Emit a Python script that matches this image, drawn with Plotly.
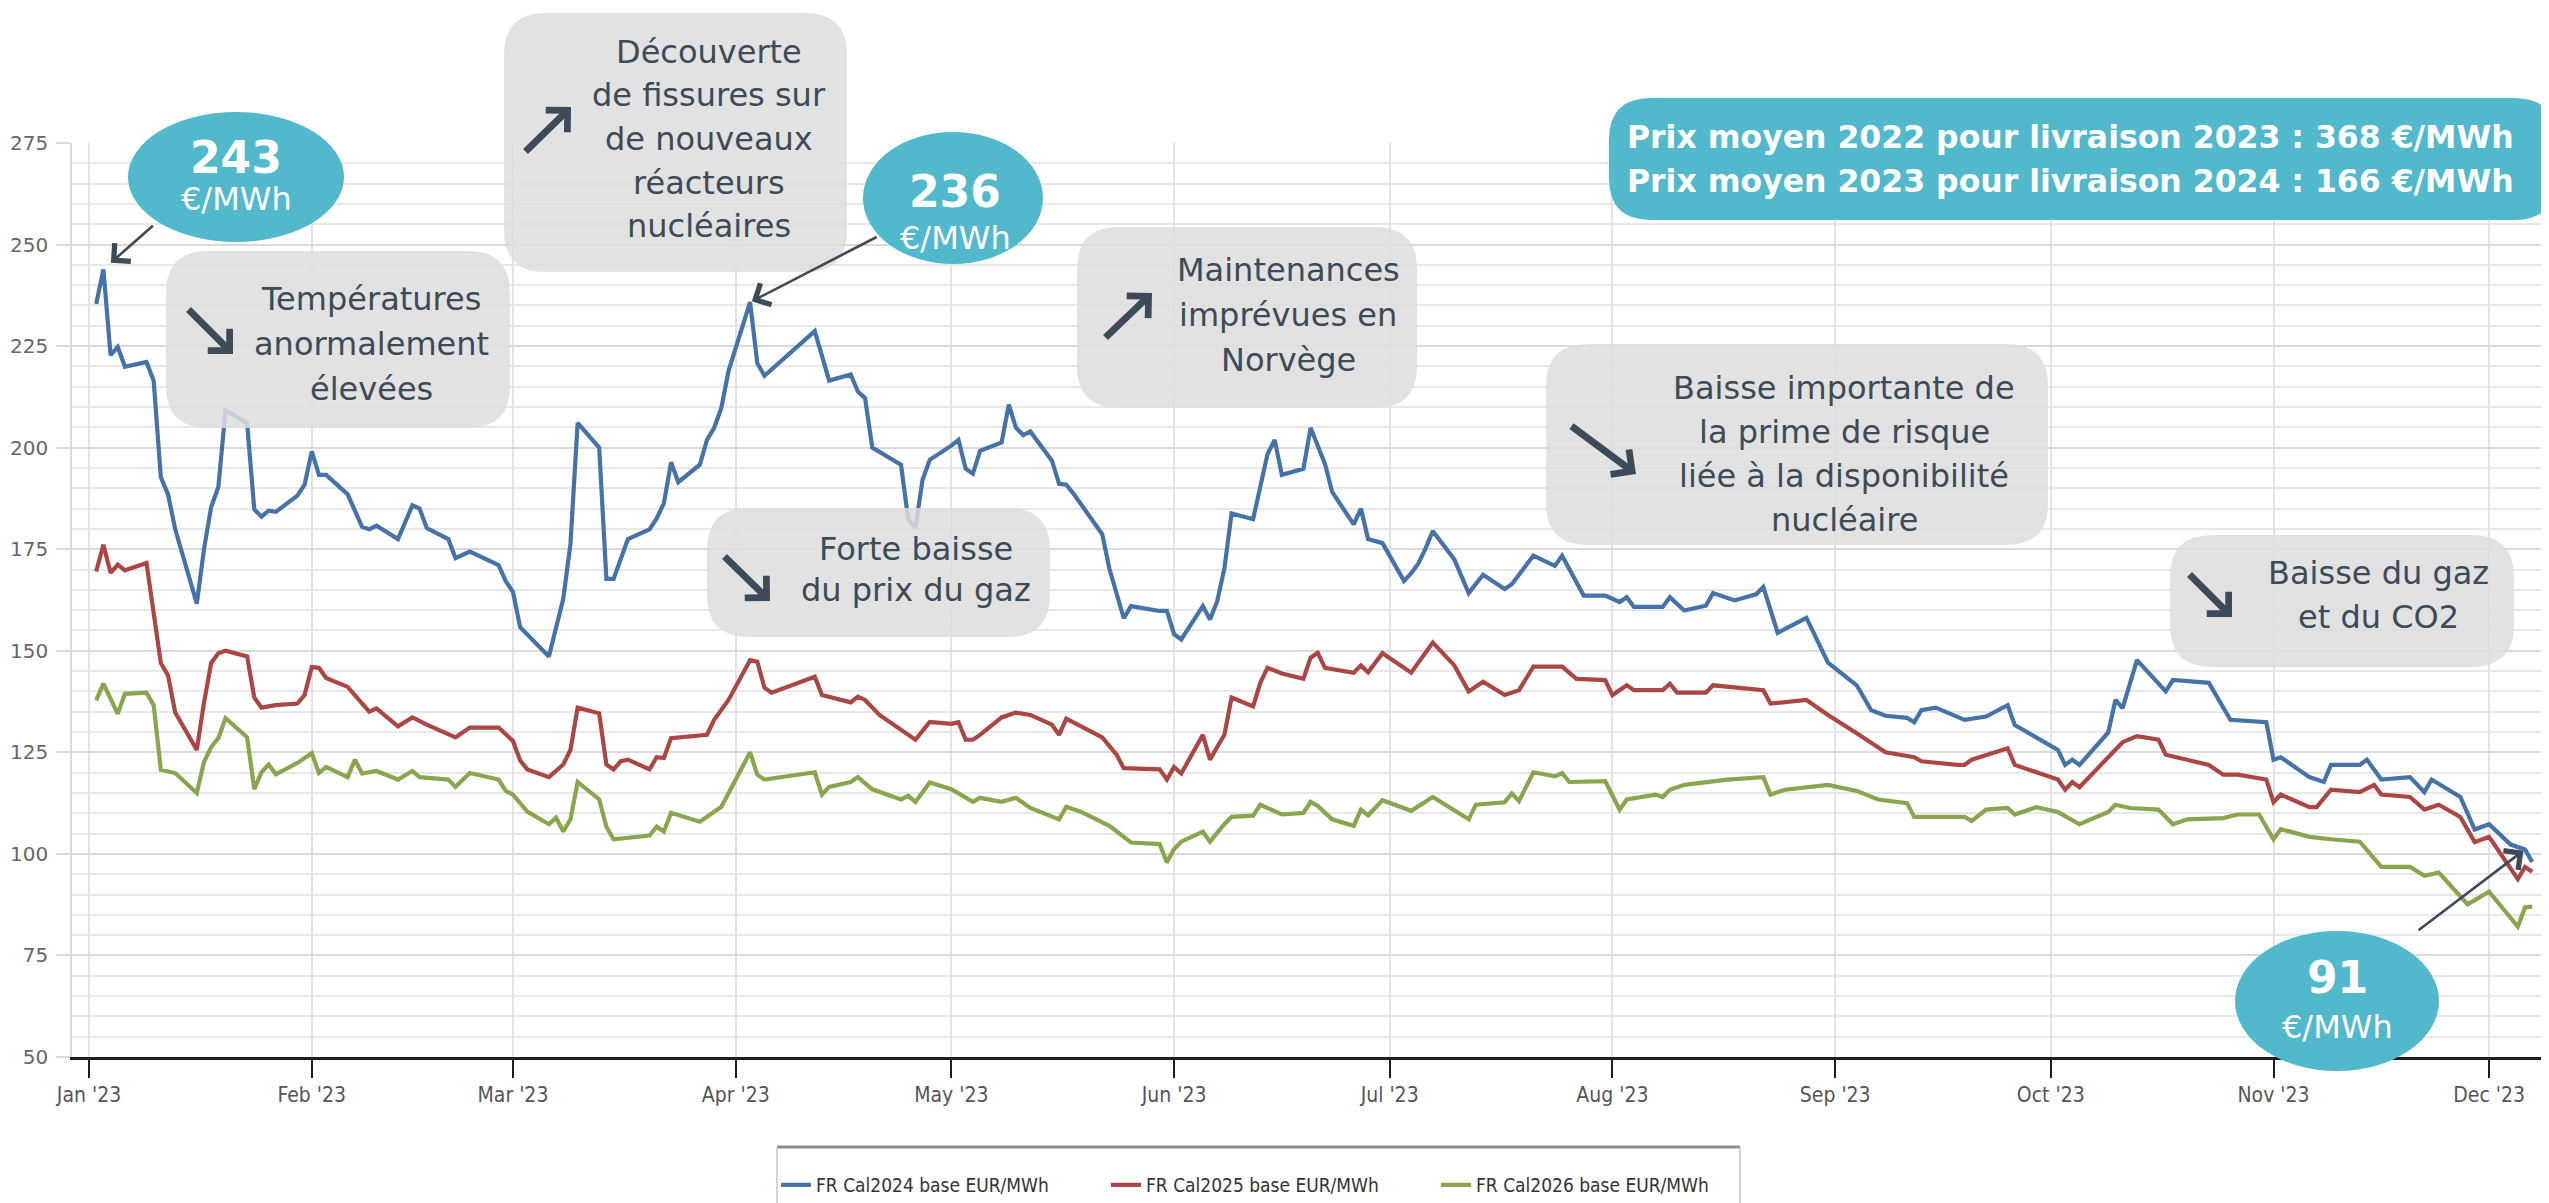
import plotly.graph_objects as go

# ---------------- data ----------------
dates_cal2024 = [
    "2023-01-02", "2023-01-03", "2023-01-04", "2023-01-05", "2023-01-06", "2023-01-09", "2023-01-10",
    "2023-01-11", "2023-01-12", "2023-01-13", "2023-01-16", "2023-01-17", "2023-01-18", "2023-01-19",
    "2023-01-20", "2023-01-23", "2023-01-24", "2023-01-25", "2023-01-26", "2023-01-27", "2023-01-30",
    "2023-01-31", "2023-02-01", "2023-02-02", "2023-02-03", "2023-02-06", "2023-02-08", "2023-02-09",
    "2023-02-10", "2023-02-13", "2023-02-15", "2023-02-16", "2023-02-17", "2023-02-20", "2023-02-21",
    "2023-02-22", "2023-02-23", "2023-02-27", "2023-02-28", "2023-03-01", "2023-03-02", "2023-03-06",
    "2023-03-08", "2023-03-09", "2023-03-10", "2023-03-13", "2023-03-14", "2023-03-15", "2023-03-17",
    "2023-03-20", "2023-03-21", "2023-03-22", "2023-03-23", "2023-03-24", "2023-03-27", "2023-03-28",
    "2023-03-29", "2023-03-30", "2023-03-31", "2023-04-03", "2023-04-04", "2023-04-05", "2023-04-12",
    "2023-04-14", "2023-04-17", "2023-04-18", "2023-04-19", "2023-04-20", "2023-04-24", "2023-04-25",
    "2023-04-26", "2023-04-27", "2023-04-28", "2023-05-01", "2023-05-02", "2023-05-03", "2023-05-04",
    "2023-05-05", "2023-05-08", "2023-05-09", "2023-05-10", "2023-05-11", "2023-05-12", "2023-05-15",
    "2023-05-16", "2023-05-17", "2023-05-18", "2023-05-22", "2023-05-23", "2023-05-25", "2023-05-26",
    "2023-05-30", "2023-05-31", "2023-06-01", "2023-06-02", "2023-06-05", "2023-06-06", "2023-06-07",
    "2023-06-08", "2023-06-09", "2023-06-12", "2023-06-14", "2023-06-15", "2023-06-16", "2023-06-19",
    "2023-06-20", "2023-06-21", "2023-06-22", "2023-06-23", "2023-06-26", "2023-06-27", "2023-06-28",
    "2023-06-30", "2023-07-03", "2023-07-04", "2023-07-05", "2023-07-06", "2023-07-07", "2023-07-10",
    "2023-07-12", "2023-07-14", "2023-07-17", "2023-07-18", "2023-07-21", "2023-07-24", "2023-07-25",
    "2023-07-28", "2023-07-31", "2023-08-02", "2023-08-03", "2023-08-04", "2023-08-08", "2023-08-09",
    "2023-08-11", "2023-08-14", "2023-08-15", "2023-08-18", "2023-08-21", "2023-08-22", "2023-08-24",
    "2023-08-28", "2023-08-31", "2023-09-04", "2023-09-06", "2023-09-08", "2023-09-11", "2023-09-12",
    "2023-09-13", "2023-09-15", "2023-09-19", "2023-09-22", "2023-09-25", "2023-09-26", "2023-09-29",
    "2023-10-02", "2023-10-03", "2023-10-04", "2023-10-05", "2023-10-09", "2023-10-10", "2023-10-11",
    "2023-10-13", "2023-10-17", "2023-10-18", "2023-10-23", "2023-10-26", "2023-10-31", "2023-11-01",
    "2023-11-02", "2023-11-06", "2023-11-08", "2023-11-09", "2023-11-13", "2023-11-14", "2023-11-16",
    "2023-11-20", "2023-11-22", "2023-11-23", "2023-11-27", "2023-11-29", "2023-12-01", "2023-12-04",
    "2023-12-06", "2023-12-07",
]
cal2024 = [
    235.4, 243.9, 222.8, 224.8, 219.9, 221.1, 216.5,
    192.7, 188.5, 179.9, 161.6, 175.0, 185.4, 190.3,
    209.2, 206.1, 184.8, 183.0, 184.5, 184.2, 188.2,
    190.9, 199.1, 193.3, 193.3, 188.5, 180.5, 179.9,
    180.8, 177.5, 185.8, 185.0, 180.2, 177.5, 172.8,
    173.6, 174.4, 171.1, 167.1, 164.5, 155.8, 148.6,
    162.8, 176.3, 206.1, 200.0, 167.7, 167.7, 177.5,
    179.9, 182.6, 186.3, 196.4, 191.5, 195.8, 201.9,
    204.9, 209.8, 218.9, 235.8, 220.8, 217.7, 228.7,
    216.5, 218.0, 213.8, 212.2, 200.0, 195.8, 182.4,
    180.2, 192.1, 197.0, 200.5, 201.9, 194.8, 193.6,
    199.2, 201.3, 210.6, 204.9, 203.1, 204.0, 196.8,
    191.1, 190.9, 188.7, 178.7, 170.2, 158.0, 161.0,
    159.8, 159.8, 154.1, 152.8, 161.0, 157.7, 162.2,
    170.2, 183.8, 182.4, 198.4, 201.9, 193.3, 194.8,
    204.9, 200.6, 196.0, 189.1, 181.1, 185.0, 177.5,
    176.5, 167.2, 169.1, 171.5, 175.2, 179.5, 172.5,
    164.2, 168.7, 165.2, 166.4, 173.4, 170.9, 173.4,
    163.6, 163.6, 162.0, 163.2, 160.8, 160.8, 163.2,
    159.9, 161.1, 164.2, 162.4, 163.9, 165.7, 154.4,
    158.1, 147.1, 141.5, 135.4, 134.0, 133.5, 132.4,
    135.4, 136.0, 133.0, 133.8, 136.6, 131.7, 128.7,
    125.6, 121.9, 123.2, 121.9, 129.9, 137.9, 135.9,
    147.7, 140.0, 142.8, 142.1, 133.0, 132.4, 123.2,
    123.8, 118.9, 117.7, 121.9, 121.9, 123.2, 118.3,
    118.9, 115.2, 118.3, 114.0, 106.0, 107.3, 102.3,
    101.1, 98.0,
]

dates_cal2025 = [
    "2023-01-02", "2023-01-03", "2023-01-04", "2023-01-05", "2023-01-06", "2023-01-09", "2023-01-11",
    "2023-01-12", "2023-01-13", "2023-01-16", "2023-01-17", "2023-01-18", "2023-01-19", "2023-01-20",
    "2023-01-23", "2023-01-24", "2023-01-25", "2023-01-27", "2023-01-30", "2023-01-31", "2023-02-01",
    "2023-02-02", "2023-02-03", "2023-02-06", "2023-02-09", "2023-02-10", "2023-02-13", "2023-02-15",
    "2023-02-17", "2023-02-21", "2023-02-23", "2023-02-27", "2023-03-01", "2023-03-02", "2023-03-03",
    "2023-03-06", "2023-03-08", "2023-03-09", "2023-03-10", "2023-03-13", "2023-03-14", "2023-03-15",
    "2023-03-16", "2023-03-17", "2023-03-20", "2023-03-21", "2023-03-22", "2023-03-23", "2023-03-28",
    "2023-03-29", "2023-03-31", "2023-04-03", "2023-04-04", "2023-04-05", "2023-04-06", "2023-04-12",
    "2023-04-13", "2023-04-17", "2023-04-18", "2023-04-19", "2023-04-21", "2023-04-26", "2023-04-28",
    "2023-05-01", "2023-05-02", "2023-05-03", "2023-05-04", "2023-05-05", "2023-05-08", "2023-05-10",
    "2023-05-12", "2023-05-15", "2023-05-16", "2023-05-17", "2023-05-18", "2023-05-22", "2023-05-24",
    "2023-05-25", "2023-05-30", "2023-05-31", "2023-06-01", "2023-06-02", "2023-06-05", "2023-06-06",
    "2023-06-07", "2023-06-08", "2023-06-09", "2023-06-12", "2023-06-13", "2023-06-14", "2023-06-16",
    "2023-06-19", "2023-06-20", "2023-06-21", "2023-06-22", "2023-06-26", "2023-06-27", "2023-06-28",
    "2023-06-30", "2023-07-04", "2023-07-07", "2023-07-10", "2023-07-12", "2023-07-14", "2023-07-17",
    "2023-07-19", "2023-07-21", "2023-07-25", "2023-07-27", "2023-07-31", "2023-08-01", "2023-08-03",
    "2023-08-04", "2023-08-08", "2023-08-09", "2023-08-10", "2023-08-14", "2023-08-15", "2023-08-22",
    "2023-08-23", "2023-08-28", "2023-08-31", "2023-09-04", "2023-09-08", "2023-09-12", "2023-09-13",
    "2023-09-18", "2023-09-19", "2023-09-20", "2023-09-25", "2023-09-26", "2023-10-02", "2023-10-03",
    "2023-10-04", "2023-10-05", "2023-10-09", "2023-10-11", "2023-10-13", "2023-10-16", "2023-10-17",
    "2023-10-23", "2023-10-25", "2023-10-27", "2023-10-31", "2023-11-01", "2023-11-02", "2023-11-06",
    "2023-11-07", "2023-11-09", "2023-11-13", "2023-11-15", "2023-11-16", "2023-11-20", "2023-11-22",
    "2023-11-24", "2023-11-27", "2023-11-29", "2023-12-01", "2023-12-05", "2023-12-06", "2023-12-07",
]
cal2025 = [
    169.5, 176.1, 169.2, 171.2, 169.8, 171.6, 147.0,
    143.9, 134.8, 125.6, 137.2, 147.0, 149.4, 150.0,
    148.6, 138.5, 136.0, 136.6, 137.0, 139.1, 146.0,
    145.8, 143.3, 141.1, 135.0, 135.8, 131.4, 133.6,
    131.8, 128.7, 131.1, 131.1, 127.8, 123.0, 120.8,
    118.9, 122.0, 125.6, 136.0, 134.6, 122.0, 120.8,
    122.8, 123.2, 120.8, 123.8, 123.6, 128.5, 129.3,
    133.0, 137.9, 147.7, 147.3, 140.9, 139.7, 143.6,
    139.1, 137.3, 138.7, 137.9, 134.2, 128.1, 132.5,
    132.0, 132.4, 128.1, 128.1, 129.3, 133.6, 134.8,
    134.2, 131.8, 129.3, 133.3, 132.4, 128.7, 124.4,
    121.1, 120.8, 118.3, 121.4, 119.8, 129.3, 123.2,
    126.3, 129.3, 138.5, 136.3, 142.1, 145.8, 144.4,
    143.1, 148.3, 149.5, 145.8, 144.6, 146.4, 144.7,
    149.4, 144.6, 152.0, 146.4, 140.0, 142.4, 139.1,
    140.3, 146.1, 146.1, 143.1, 142.8, 139.1, 141.5,
    140.3, 140.3, 141.9, 139.7, 139.7, 141.5, 140.3,
    137.0, 137.9, 134.2, 129.7, 125.0, 123.8, 122.8,
    121.9, 121.9, 123.2, 126.0, 121.9, 118.3, 115.8,
    117.7, 116.4, 123.8, 127.5, 129.0, 128.1, 124.4,
    121.9, 119.5, 119.5, 118.3, 112.7, 114.6, 111.5,
    111.5, 115.8, 115.2, 117.0, 114.6, 114.0, 110.9,
    112.1, 109.1, 102.9, 104.2, 93.8, 96.8, 95.6,
]

dates_cal2026 = [
    "2023-01-02", "2023-01-03", "2023-01-05", "2023-01-06", "2023-01-09", "2023-01-10", "2023-01-11",
    "2023-01-13", "2023-01-16", "2023-01-17", "2023-01-18", "2023-01-19", "2023-01-20", "2023-01-23",
    "2023-01-24", "2023-01-25", "2023-01-26", "2023-01-27", "2023-01-30", "2023-02-01", "2023-02-02",
    "2023-02-03", "2023-02-06", "2023-02-07", "2023-02-08", "2023-02-10", "2023-02-13", "2023-02-15",
    "2023-02-16", "2023-02-20", "2023-02-21", "2023-02-23", "2023-02-27", "2023-02-28", "2023-03-01",
    "2023-03-03", "2023-03-06", "2023-03-07", "2023-03-08", "2023-03-09", "2023-03-10", "2023-03-13",
    "2023-03-14", "2023-03-15", "2023-03-20", "2023-03-21", "2023-03-22", "2023-03-23", "2023-03-27",
    "2023-03-30", "2023-04-03", "2023-04-04", "2023-04-05", "2023-04-12", "2023-04-13", "2023-04-14",
    "2023-04-17", "2023-04-18", "2023-04-20", "2023-04-24", "2023-04-25", "2023-04-26", "2023-04-28",
    "2023-05-01", "2023-05-04", "2023-05-05", "2023-05-08", "2023-05-10", "2023-05-12", "2023-05-16",
    "2023-05-17", "2023-05-19", "2023-05-23", "2023-05-26", "2023-05-30", "2023-05-31", "2023-06-01",
    "2023-06-02", "2023-06-05", "2023-06-06", "2023-06-08", "2023-06-09", "2023-06-12", "2023-06-13",
    "2023-06-16", "2023-06-19", "2023-06-20", "2023-06-21", "2023-06-23", "2023-06-26", "2023-06-27",
    "2023-06-28", "2023-06-30", "2023-07-04", "2023-07-07", "2023-07-12", "2023-07-13", "2023-07-17",
    "2023-07-18", "2023-07-19", "2023-07-21", "2023-07-24", "2023-07-25", "2023-07-26", "2023-07-31",
    "2023-08-02", "2023-08-03", "2023-08-07", "2023-08-08", "2023-08-09", "2023-08-11", "2023-08-17",
    "2023-08-22", "2023-08-23", "2023-08-25", "2023-08-31", "2023-09-04", "2023-09-07", "2023-09-11",
    "2023-09-12", "2023-09-19", "2023-09-20", "2023-09-22", "2023-09-25", "2023-09-26", "2023-09-29",
    "2023-10-02", "2023-10-05", "2023-10-09", "2023-10-10", "2023-10-12", "2023-10-16", "2023-10-18",
    "2023-10-20", "2023-10-25", "2023-10-27", "2023-10-30", "2023-11-01", "2023-11-02", "2023-11-06",
    "2023-11-09", "2023-11-13", "2023-11-16", "2023-11-20", "2023-11-22", "2023-11-24", "2023-11-28",
    "2023-12-01", "2023-12-05", "2023-12-06", "2023-12-07",
]
cal2026 = [
    137.8, 141.9, 134.5, 139.4, 139.7, 136.6, 120.7,
    119.9, 115.0, 122.6, 126.3, 128.5, 133.4, 128.7,
    115.9, 120.1, 122.0, 119.6, 122.4, 124.8, 119.9,
    121.4, 118.9, 123.2, 119.8, 120.4, 118.3, 120.4,
    118.9, 118.3, 116.5, 119.9, 118.3, 115.5, 114.6,
    110.4, 107.3, 108.9, 105.5, 108.5, 117.7, 113.4,
    106.7, 103.6, 104.5, 106.7, 105.5, 110.1, 107.9,
    111.6, 125.0, 119.5, 118.3, 120.1, 114.6, 116.5,
    117.7, 118.9, 115.9, 113.4, 114.3, 112.8, 117.6,
    115.9, 112.8, 113.8, 112.8, 113.8, 111.3, 108.5,
    111.6, 110.4, 106.9, 102.8, 102.4, 97.9, 101.2,
    103.0, 105.5, 103.0, 107.3, 109.1, 109.4, 112.1,
    109.7, 110.1, 112.8, 111.8, 108.5, 106.9, 110.9,
    109.5, 113.2, 110.6, 114.0, 108.5, 112.1, 112.7,
    114.9, 113.0, 120.1, 119.1, 119.9, 117.7, 117.9,
    110.9, 113.4, 114.6, 114.0, 115.8, 117.0, 118.3,
    118.9, 114.6, 115.8, 117.0, 115.5, 113.4, 112.5,
    109.1, 109.1, 108.1, 110.9, 111.3, 109.7, 111.5,
    110.3, 107.3, 110.3, 112.1, 111.3, 110.9, 107.3,
    108.5, 108.8, 109.7, 109.7, 103.6, 106.1, 104.2,
    103.6, 103.0, 96.8, 96.8, 94.6, 95.4, 87.6,
    90.7, 82.1, 86.8, 87.0,
]

series_names = ["FR Cal2024 base EUR/MWh", "FR Cal2025 base EUR/MWh", "FR Cal2026 base EUR/MWh"]
month_ticks = ["2023-01-01", "2023-02-01", "2023-03-01", "2023-04-01", "2023-05-01", "2023-06-01",
               "2023-07-01", "2023-08-01", "2023-09-01", "2023-10-01", "2023-11-01", "2023-12-01"]
month_labels = ["Jan '23", "Feb '23", "Mar '23", "Apr '23", "May '23", "Jun '23",
                "Jul '23", "Aug '23", "Sep '23", "Oct '23", "Nov '23", "Dec '23"]

# ---------------- layout helpers ----------------
W, H = 2549, 1203
ML, MR, MT, MB = 64, 0, 135, 154
PW, PH = W - ML - MR, H - MT - MB
# decoration coordinates below are measured in a frame whose plot-area corner is (72, 143)
OX, OY = 72, 143


def px(x):
    return (x - OX) / PW


def py(y):
    return (OY + PH - y) / PH


def rrect(x0, y0, x1, y1, r):
    X, Y = px, py
    return (f"M{X(x0 + r)},{Y(y0)} L{X(x1 - r)},{Y(y0)} Q{X(x1)},{Y(y0)} {X(x1)},{Y(y0 + r)} "
            f"L{X(x1)},{Y(y1 - r)} Q{X(x1)},{Y(y1)} {X(x1 - r)},{Y(y1)} "
            f"L{X(x0 + r)},{Y(y1)} Q{X(x0)},{Y(y1)} {X(x0)},{Y(y1 - r)} "
            f"L{X(x0)},{Y(y0 + r)} Q{X(x0)},{Y(y0)} {X(x0 + r)},{Y(y0)} Z")


COLORS = ["#4572A7", "#AA4643", "#89A54E"]
TEAL = "#52B9CC"
DARK = "#3D4A57"
BOXFILL = "rgba(221,221,221,0.86)"
FONT = "DejaVu Sans, Verdana, sans-serif"
NARROW = "Liberation Sans Narrow, Arial Narrow, DejaVu Sans Condensed, sans-serif"

fig = go.Figure()
for d, v, name, c in zip([dates_cal2024, dates_cal2025, dates_cal2026],
                         [cal2024, cal2025, cal2026], series_names, COLORS):
    fig.add_trace(go.Scatter(x=d, y=v, name=name, mode="lines",
                             line=dict(color=c, width=4.2), hoverinfo="skip"))

shapes = []
annotations = []

# gray rounded boxes
for (x0, y0, x1, y1) in [(504, 13, 847, 272), (166, 251, 510, 428), (707, 508, 1050, 637),
                         (1077, 227, 1417, 408), (1546, 344, 2048, 545), (2170, 535, 2514, 667)]:
    shapes.append(dict(type="path", xref="paper", yref="paper", path=rrect(x0, y0, x1, y1, 42),
                       fillcolor=BOXFILL, line=dict(width=0), layer="above"))

# teal summary box
shapes.append(dict(type="path", xref="paper", yref="paper", path=rrect(1609, 98, 2556, 220, 42),
                   fillcolor=TEAL, line=dict(width=0), layer="above"))

# teal ellipses
for (cx, cy, rx, ry) in [(236, 177, 108, 65), (953, 198, 90, 66), (2337, 1001, 102, 70)]:
    shapes.append(dict(type="circle", xref="paper", yref="paper",
                       x0=px(cx - rx), x1=px(cx + rx), y0=py(cy + ry), y1=py(cy - ry),
                       fillcolor=TEAL, line=dict(width=0), layer="above"))

# legend frame
shapes.append(dict(type="line", xref="paper", yref="paper", x0=px(777), x1=px(1740),
                   y0=py(1147), y1=py(1147), line=dict(color="#8C8C8C", width=3)))
for xx in (777, 1740):
    shapes.append(dict(type="line", xref="paper", yref="paper", x0=px(xx), x1=px(xx),
                       y0=py(1147), y1=py(1225), line=dict(color="#C4C4C4", width=1.5)))


def txt(x, y, s, size, color=DARK, bold=False):
    annotations.append(dict(xref="paper", yref="paper", x=px(x), y=py(y),
                            text=f"<b>{s}</b>" if bold else s, showarrow=False,
                            xanchor="center", yanchor="middle",
                            font=dict(family=FONT, size=size, color=color)))


# box texts
for i, s in enumerate(["Découverte", "de fissures sur", "de nouveaux", "réacteurs", "nucléaires"]):
    txt(709, 52 + 43.5 * i, s, 32)
for i, s in enumerate(["Températures", "anormalement", "élevées"]):
    txt(371, 299 + 45 * i, s, 32)
for i, s in enumerate(["Forte baisse", "du prix du gaz"]):
    txt(916, 549 + 41 * i, s, 32)
for i, s in enumerate(["Maintenances", "imprévues en", "Norvège"]):
    txt(1288, 270 + 45 * i, s, 32)
for i, s in enumerate(["Baisse importante de", "la prime de risque",
                       "liée à la disponibilité", "nucléaire"]):
    txt(1844, 388 + 44 * i, s, 32)
for i, s in enumerate(["Baisse du gaz", "et du CO2"]):
    txt(2378, 573 + 44 * i, s, 32)

# summary texts
txt(2070, 137, "Prix moyen 2022 pour livraison 2023 : 368 €/MWh", 31.5, "white", True)
txt(2070, 181, "Prix moyen 2023 pour livraison 2024 : 166 €/MWh", 31.5, "white", True)

# ellipse texts
txt(236, 157, "243", 44, "white", True)
txt(236, 199, "€/MWh", 32, "white")
txt(955, 192, "236", 44, "white", True)
txt(955, 238, "€/MWh", 32, "white")
txt(2337, 977, "91", 44, "white", True)
txt(2337, 1027, "€/MWh", 32, "white")

# thin pointer arrows (heads anchored on data points)
for (xd, yv, ax, ay, so) in [("2023-01-03", 243.9, 51, -45, 10),
                             ("2023-04-03", 235.8, 128, -66, 2),
                             ("2023-12-06", 101.1, -108, 82, 2)]:
    annotations.append(dict(xref="x", yref="y", x=xd, y=yv, ax=ax, ay=ay, text="",
                            showarrow=True, arrowhead=4, arrowsize=1.8, arrowwidth=2.6,
                            arrowcolor=DARK, standoff=so))

# thick trend arrows
for (tx, ty, hx, hy) in [(187, 308, 233, 354), (524, 153, 571, 107), (723, 555, 770, 601),
                         (1104, 339, 1152, 293), (1570, 425, 1636, 474), (2188, 573, 2232, 617)]:
    annotations.append(dict(xref="paper", yref="paper", x=px(hx), y=py(hy),
                            ax=tx - hx, ay=ty - hy, text="", showarrow=True,
                            arrowhead=4, arrowsize=0.85, arrowwidth=7, arrowcolor=DARK))

fig.update_layout(
    width=W, height=H,
    margin=dict(l=ML, r=MR, t=MT, b=MB, autoexpand=False),
    paper_bgcolor="white", plot_bgcolor="white",
    shapes=shapes, annotations=annotations,
    showlegend=True,
    legend=dict(orientation="h", x=px(776), y=py(1166), xanchor="left", yanchor="top",
                font=dict(family=NARROW, size=19, color="#333333"),
                bgcolor="rgba(0,0,0,0)", borderwidth=0,
                entrywidth=285, entrywidthmode="pixels", itemwidth=30),
    xaxis=dict(type="date", range=["2022-12-29 15:13", "2023-12-10 10:48"],
               tickvals=month_ticks, ticktext=month_labels,
               showgrid=True, gridcolor="#E3E3E3", gridwidth=1.5,
               showline=True, linecolor="#1E1E1E", linewidth=3,
               ticks="outside", ticklen=18, tickwidth=2, tickcolor="#1E1E1E",
               ticklabelstandoff=-1,
               tickfont=dict(family=NARROW, size=21, color="#555555"),
               zeroline=False, fixedrange=True),
    yaxis=dict(range=[50, 275], tick0=50, dtick=25,
               showgrid=True, gridcolor="#DADADA", gridwidth=1.5,
               minor=dict(dtick=5, showgrid=True, gridcolor="#E8E8E8", gridwidth=1.5),
               showline=True, linecolor="#DADADA", linewidth=1.5,
               ticks="outside", ticklen=14, tickwidth=1.5, tickcolor="#DADADA",
               ticklabelstandoff=4,
               tickfont=dict(family=FONT, size=20, color="#666666"),
               zeroline=False, fixedrange=True),
)

fig.write_html("out.html", include_plotlyjs=True, config={"displayModeBar": False})
